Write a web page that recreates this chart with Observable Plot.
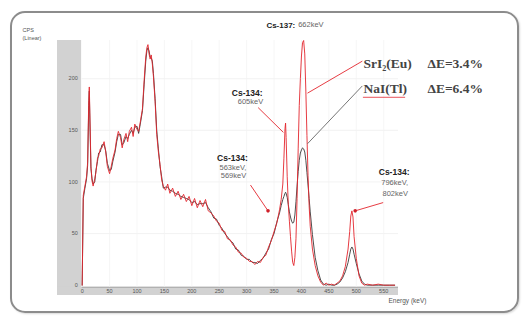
<!DOCTYPE html>
<html>
<head>
<meta charset="utf-8">
<script src="https://cdn.jsdelivr.net/npm/d3@7"></script>
<script src="https://cdn.jsdelivr.net/npm/@observablehq/plot@0.6"></script>
<style>
  html, body { margin: 0; padding: 0; background: #fff; }
  #wrap { position: relative; width: 523px; height: 323px; overflow: hidden; }
  #frame { position: absolute; left: 10px; top: 11px; width: 509px; height: 302px; box-sizing: border-box;
           border: 2px solid #8c8c8c; border-radius: 15px; box-shadow: 1px 1px 2px rgba(0,0,0,0.15); }
  #chart { position: absolute; left: 0; top: 0; }
</style>
</head>
<body>
<div id="wrap"><div id="frame"></div><div id="chart"></div></div>
<script>
// Channel numbers (x) and counts for the two detectors
const channels = [0,2,5,8,10,12,13,14,16,18,20,23,25,28,30,33,36,40,43,46,50,53,56,60,63,66,70,73,76,80,83,86,90,93,96,100,103,106,110,113,116,118,120,122,124,126,128,130,133,136,139,142,145,148,152,156,160,165,170,175,180,185,190,195,200,205,210,215,220,225,230,235,240,245,250,255,260,265,270,275,280,285,290,295,300,305,310,315,320,325,330,335,340,345,350,355,360,363,366,368,370,371,372,374,376,378,380,382,384,386,388,390,392,394,396,398,400,402,404,406,408,410,412,414,416,420,425,430,435,440,445,450,455,460,465,470,475,480,485,488,490,492,494,496,500,505,510,515,520,530,540,550,560,570];
const srI2Counts = [0,87,96,105,119,179,192,167,115,101,96,103,109,123,125,132,133,139,129,115,108,115,123,131,142,149,143,133,141,147,139,149,153,144,156,151,149,158,171,198,221,230,233,224,219,223,214,202,178,146,129,117,102,96,92,98,89,94,86,91,83,88,81,86,77,84,75,82,76,83,72,70,67,62,60,53,52,45,44,39,37,32,31,27,26,23,23,20,23,22,27,29,37,43,52,60,73,83,98,123,152,157,143,105,78,62,47,33,22,19,27,45,84,132,174,200,222,235,237,224,188,145,106,77,57,35,19,9,3,0,2,0,1,0,2,4,9,18,35,52,67,72,66,47,26,9,2,0,1,0,1,0,0,0];
const naICounts = [0,84,94,103,116,174,188,161,113,103,98,100,111,120,128,129,136,136,130,118,111,112,120,129,139,146,146,136,138,144,142,146,150,147,153,154,147,156,169,194,217,227,230,227,221,220,217,205,181,150,132,115,105,94,95,95,92,91,89,88,86,85,84,83,80,81,78,79,79,80,75,71,65,64,58,55,50,47,43,41,35,34,29,28,25,25,22,22,21,24,26,31,35,44,50,61,70,77,83,86,89,90,89,85,78,71,66,62,60,61,68,81,96,110,121,128,131,133,132,129,121,109,97,84,71,49,27,14,5,1,0,1,0,0,1,3,7,13,22,30,35,37,35,30,21,11,4,1,0,0,0,0,0,0];

const yTicks = [0, 50, 100, 150, 200];
const xTicks = [0, 50, 100, 150, 200, 250, 300, 350, 400, 450, 500, 550];
const xDomain = [-45, 577];
const yDomain = [-10, 237];

// Annotations: peak labels
const peakTitles = [
  {ch: 301, v: 186, label: "Cs-134:"},
  {ch: 274, v: 123, label: "Cs-134:"},
  {ch: 569, v: 109, label: "Cs-134:"}
];
const peakEnergies = [
  {ch: 307, v: 178, label: "605keV"},
  {ch: 275, v: 114, label: "563keV,"},
  {ch: 276, v: 106, label: "569keV"},
  {ch: 570, v: 99, label: "796keV,"},
  {ch: 571, v: 89, label: "802keV"}
];
const redLeaders = [
  {x1: 321, y1: 172, x2: 367, y2: 148},
  {x1: 307, y1: 97, x2: 339, y2: 72},
  {x1: 549, y1: 80, x2: 498, y2: 72},
  {x1: 511, y1: 217, x2: 411, y2: 186}
];
const grayLeaders = [
  {x1: 511, y1: 193, x2: 411, y2: 137}
];
const leaderDots = [
  {ch: 339, v: 72},
  {ch: 498, v: 72}
];
const legendItems = [
  {ch: 513, v: 215, name: "SrI\u2082(Eu)", res: "\u0394E=3.4%"},
  {ch: 513, v: 190, name: "NaI(Tl)", res: "\u0394E=6.4%"}
];

const rows = channels.map((ch, i) => ({ch, srI2: srI2Counts[i], naI: naICounts[i]}));

const sans = "Liberation Sans, Arial, sans-serif";
const serif = "Liberation Serif, Times New Roman, serif";

const chart = Plot.plot({
  width: 523,
  height: 323,
  marginLeft: 57,
  marginRight: 125,
  marginTop: 40,
  marginBottom: 28,
  x: {domain: xDomain, axis: null},
  y: {domain: yDomain, axis: null},
  style: {fontFamily: sans, background: "transparent", overflow: "visible"},
  marks: [
    // gray axis bands
    Plot.rect([null], {x1: xDomain[0], x2: -1, y1: yDomain[0], y2: yDomain[1], fill: "#d2d2d2", inset: 0}),
    Plot.rect([null], {x1: xDomain[0], x2: xDomain[1], y1: yDomain[0], y2: -2, fill: "#d2d2d2", inset: 0}),
    Plot.ruleY([null], {y: -2, x1: 0, x2: xDomain[1], stroke: "#9a9a9a", strokeWidth: 0.8}),
    // faint grid
    Plot.ruleY(yTicks.slice(1), {y: d => d, x1: 0, x2: xDomain[1], stroke: "#ececec", strokeWidth: 0.7}),
    Plot.ruleX(xTicks.slice(1), {x: d => d, y1: -2, y2: yDomain[1], stroke: "#f2f2f2", strokeWidth: 0.7}),
    // tick labels
    Plot.text(yTicks, {x: -8, y: d => d, text: d => String(d), textAnchor: "end", fontSize: 5.5, fill: "#555"}),
    Plot.text(xTicks, {x: d => d, y: -6, text: d => String(d), fontSize: 5.5, fill: "#555"}),
    // axis titles
    Plot.text(["CPS\n(Linear)"], {frameAnchor: "top-left", dx: -35, dy: -1, text: d => d, textAnchor: "start", lineAnchor: "bottom", fontSize: 5.5, lineHeight: 1.3, fill: "#555"}),
    Plot.text(["Energy (keV)"], {frameAnchor: "bottom-right", dx: -10, dy: 7, text: d => d, textAnchor: "start", fontSize: 6.5, fill: "#555"}),
    // spectra
    Plot.line(rows, {x: "ch", y: "naI", stroke: "#3a3a3a", strokeWidth: 0.9}),
    Plot.line(rows, {x: "ch", y: "srI2", stroke: "#e3262e", strokeWidth: 1, strokeOpacity: 0.9}),
    // leaders
    Plot.link(redLeaders, {x1: "x1", y1: "y1", x2: "x2", y2: "y2", stroke: "#e3262e", strokeWidth: 0.9}),
    Plot.link(grayLeaders, {x1: "x1", y1: "y1", x2: "x2", y2: "y2", stroke: "#666", strokeWidth: 0.9}),
    Plot.dot(leaderDots, {x: "ch", y: "v", r: 1.8, fill: "#d0202a", stroke: "none"}),
    // peak labels
    Plot.text([{ch: 336, v: 252}], {x: "ch", y: "v", text: () => "Cs-137:", textAnchor: "start", fontSize: 8, fontWeight: "bold", fill: "#222"}),
    Plot.text([{ch: 394, v: 252}], {x: "ch", y: "v", text: () => "662keV", textAnchor: "start", fontSize: 7.5, fill: "#666"}),
    Plot.text(peakTitles, {x: "ch", y: "v", text: "label", fontSize: 8.5, fontWeight: "bold", fill: "#222"}),
    Plot.text(peakEnergies, {x: "ch", y: "v", text: "label", fontSize: 7.5, fill: "#666"}),
    // legend-like labels
    Plot.text(legendItems, {x: "ch", y: "v", text: "name", textAnchor: "start", fontFamily: serif, fontWeight: "bold", fontSize: 13.5, fill: "#444"}),
    Plot.text(legendItems, {x: "ch", y: "v", dx: 64, text: "res", textAnchor: "start", fontFamily: serif, fontWeight: "bold", fontSize: 13.5, fill: "#444"}),
    Plot.ruleY([null], {y: 182, x1: 513, x2: 590, stroke: "#e3262e", strokeWidth: 0.8})
  ]
});
document.getElementById("chart").appendChild(chart);
</script>
</body>
</html>
